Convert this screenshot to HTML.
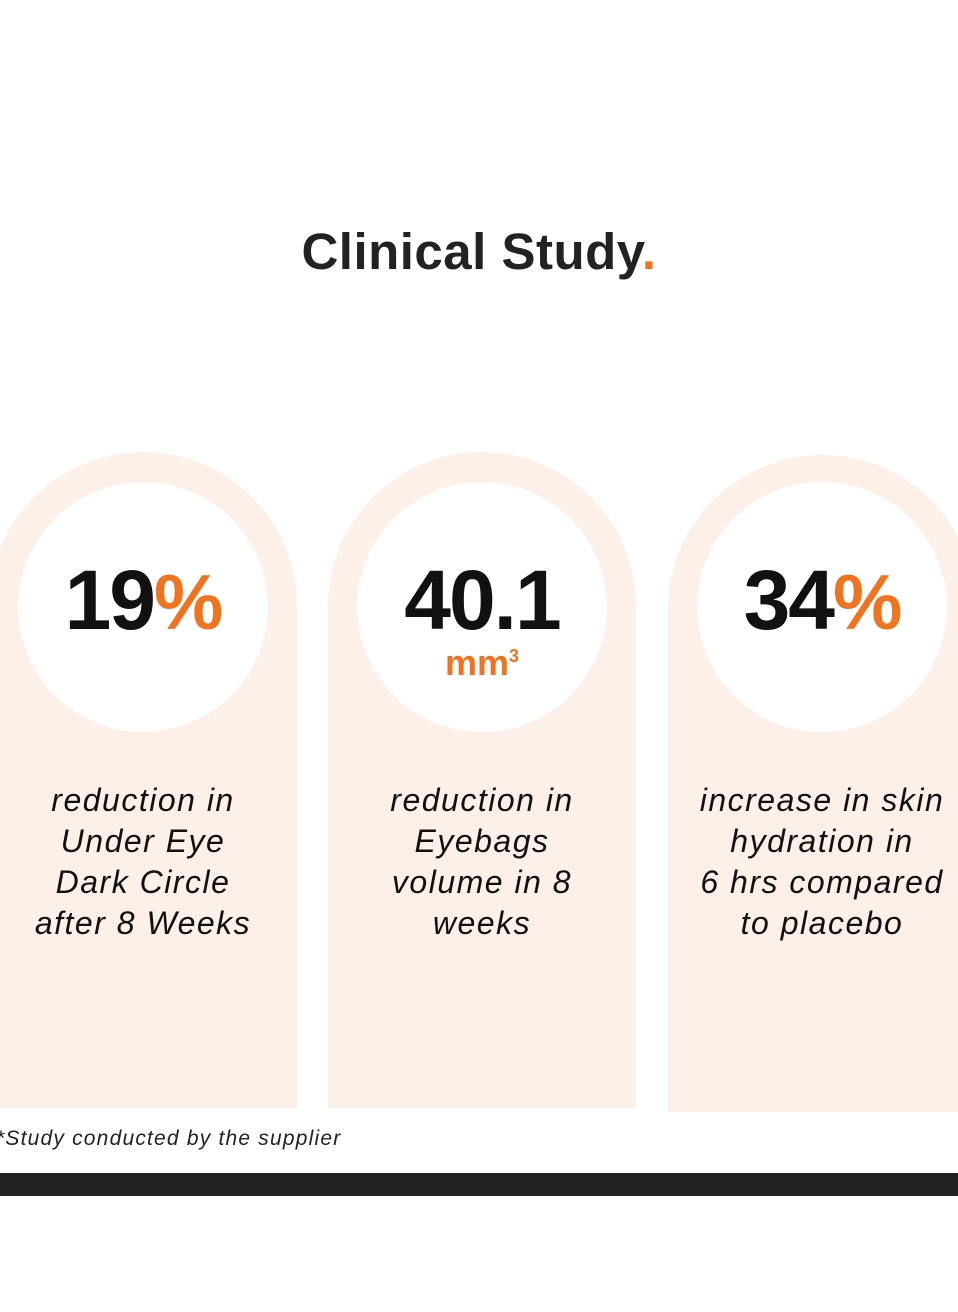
<!DOCTYPE html>
<html><head><meta charset="utf-8"><style>
body{margin:0;width:958px;height:1312px;background:#fff;position:relative;overflow:hidden;font-family:"Liberation Sans",sans-serif}
.t{position:absolute;top:222px;left:0;width:958px;text-align:center;font-size:51px;font-weight:bold;color:#222;letter-spacing:0.5px}
.o{color:#f07320}
.card{position:absolute;top:452px;width:308px;height:656px;background:#fdf0e9;border-radius:154px 154px 0 0}
.c{position:absolute;width:250px;height:250px;border-radius:50%;background:#fff;top:482px}
.n{position:absolute;top:555px;width:308px;text-align:center;font-size:84px;font-weight:bold;color:#111;letter-spacing:-2px;line-height:90px}
.n .o{font-size:78px}
.u{position:absolute;top:636px;width:308px;text-align:center;font-size:36px;font-weight:bold;color:#f07320;line-height:40px}
.d{position:absolute;top:780px;width:308px;text-align:center;font-style:italic;font-size:32px;line-height:41px;color:#111;letter-spacing:1.5px}
.f{position:absolute;top:1127px;left:-4px;font-style:italic;font-size:21px;color:#222;letter-spacing:1.2px}
.bar{position:absolute;top:1173px;left:0;width:958px;height:23px;background:#222}
</style></head><body>
<div class="t">Clinical Study<span class="o">.</span></div>
<div class="card" style="left:-11px"></div>
<div class="card" style="left:328px"></div>
<div class="card" style="left:668px;top:455px;height:657px"></div>
<div class="c" style="left:18px"></div>
<div class="c" style="left:357px"></div>
<div class="c" style="left:697px"></div>
<div class="n" style="left:-11px">19<span class="o">%</span></div>
<div class="n" style="left:328px">40.1</div>
<div class="u" style="left:328px">mm<sup style="font-size:18px">3</sup></div>
<div class="n" style="left:668px">34<span class="o">%</span></div>
<div class="d" style="left:-11px">reduction in<br>Under Eye<br>Dark Circle<br>after 8 Weeks</div>
<div class="d" style="left:328px">reduction in<br>Eyebags<br>volume in 8<br>weeks</div>
<div class="d" style="left:668px">increase in skin<br>hydration in<br>6 hrs compared<br>to placebo</div>
<div class="f">*Study conducted by the supplier</div>
<div class="bar"></div>
</body></html>
